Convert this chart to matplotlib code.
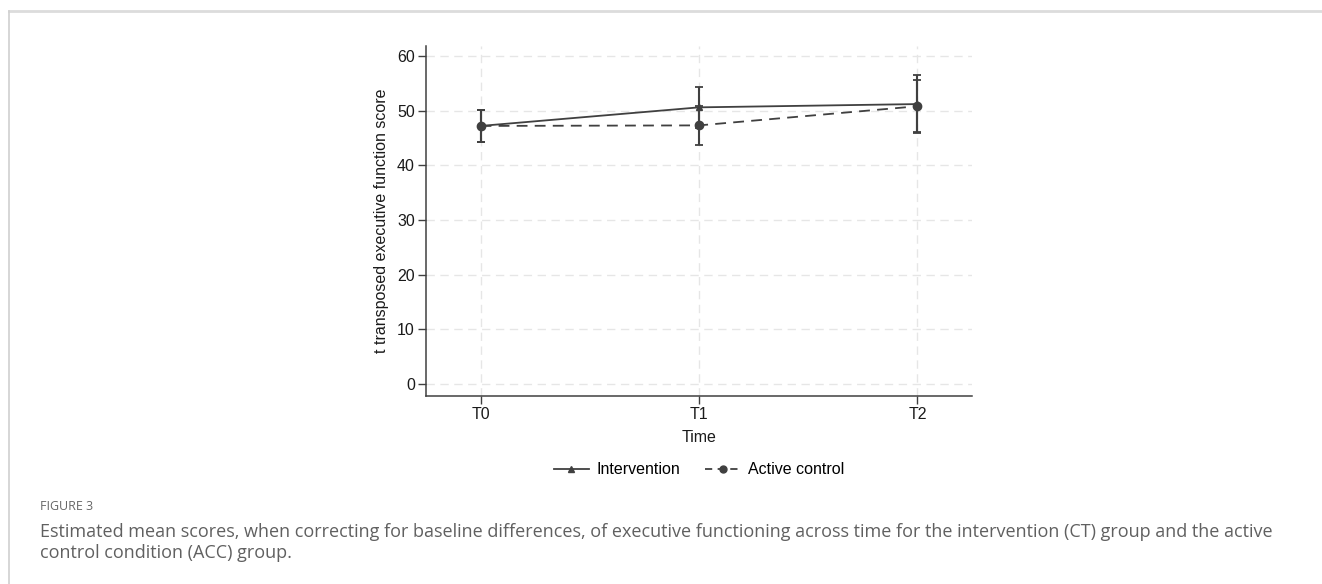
import matplotlib
matplotlib.use("Agg")
import matplotlib.pyplot as plt
from matplotlib.lines import Line2D

# values
timepoints = ["T0", "T1", "T2"]
intervention_mean = [47.2, 50.6, 51.2]
intervention_err = [2.85, 3.8, 5.3]
control_mean = [47.2, 47.3, 50.8]
control_err = [2.85, 3.5, 4.8]

yticks = [0, 10, 20, 30, 40, 50, 60]
caption_head = "FIGURE 3"
caption_text = ("Estimated mean scores, when correcting for baseline differences, of executive functioning across time for the intervention (CT) group and the active\n"
                "control condition (ACC) group.")

plt.rcParams['font.family'] = ['Liberation Sans', 'DejaVu Sans']
dark = "#404040"
txt = "#1a1a1a"

fig = plt.figure(figsize=(13.22, 5.84), dpi=100)
ax = fig.add_axes([0.3222, 0.322, 0.4131, 0.599])

x = list(range(len(timepoints)))
ax.grid(True, color="#e6e6e6", linestyle=(0, (6, 4)), linewidth=1.0)
ax.set_axisbelow(True)

ax.errorbar(x, intervention_mean, yerr=intervention_err, color=dark, linestyle="-",
            linewidth=1.3, marker="^", markersize=4.5, capsize=3, capthick=1.3, elinewidth=1.5, zorder=3)
ax.errorbar(x, control_mean, yerr=control_err, color=dark, linestyle=(0, (6, 4)),
            linewidth=1.3, marker="o", markersize=6, capsize=3, capthick=1.3, elinewidth=1.5, zorder=3)

ax.set_xlim(-0.25, 2.25)
ax.set_ylim(-2.2, 61.8)
ax.set_xticks(x)
ax.set_xticklabels(timepoints)
ax.set_yticks(yticks)
ax.tick_params(direction="out", length=6, width=1, color=dark, labelsize=11.5, labelcolor=txt, pad=2)
for s in ["top", "right"]:
    ax.spines[s].set_visible(False)
for s in ["left", "bottom"]:
    ax.spines[s].set_color(dark)
    ax.spines[s].set_linewidth(1.1)
ax.set_xlabel("Time", fontsize=11.5, color=txt, labelpad=6)
ax.set_ylabel("t transposed executive function score", fontsize=11.5, color=txt, labelpad=6)

handles = [Line2D([], [], color=dark, linestyle="-", marker="^", markersize=4, linewidth=1.3),
           Line2D([], [], color=dark, linestyle=(0, (4, 3)), marker="o", markersize=5, linewidth=1.3)]
fig.legend(handles, ["Intervention", "Active control"], loc="center", bbox_to_anchor=(0.5287, 1 - 470 / 584),
           ncol=2, frameon=False, fontsize=11.5, handlelength=2.2, columnspacing=1.6, handletextpad=0.45)

# frame lines of the page panel
fig.add_artist(Line2D([0.007, 1.0], [0.981, 0.981], color="#dcdcdc", linewidth=2, transform=fig.transFigure))
fig.add_artist(Line2D([0.007, 0.007], [0.0, 0.981], color="#d0d0d0", linewidth=1.2, transform=fig.transFigure))

fig.text(0.030, 1 - 507 / 584, caption_head, fontsize=9, color="#666666", family=["Open Sans", "DejaVu Sans"], va="center")
fig.text(0.030, 1 - 542.5 / 584, caption_text, fontsize=13, color="#606060", family=["Open Sans", "DejaVu Sans"],
         va="center", linespacing=1.28)

fig.savefig("out.png", dpi=100, facecolor="white")
